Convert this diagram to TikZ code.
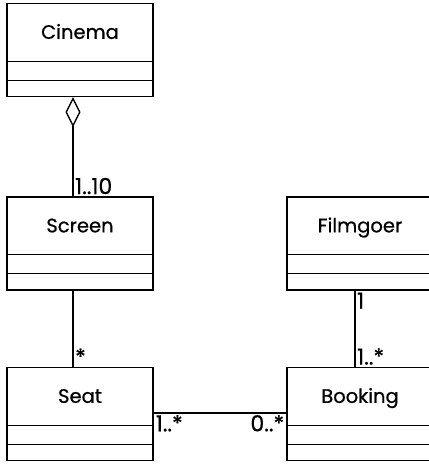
\documentclass[tikz,border=0pt]{standalone}
\usepackage{fontspec}
\newfontfamily\umlfont{Poppins}[FakeBold=0.7]
\usetikzlibrary{arrows.meta}

\tikzset{
    classbox/.style={draw, line width=1.3pt, minimum width=146pt, minimum height=93pt, inner sep=0pt},
    classname/.style={anchor=base, font=\umlfont\fontsize{19.5}{23}\selectfont},
    mult/.style={font=\umlfont\fontsize{22}{26}\selectfont, inner sep=1.5pt},
}

\begin{document}
\begin{tikzpicture}[x=1pt, y=1pt, line width=1.3pt, line join=miter]

    \useasboundingbox (0,0) rectangle (429,-464);

    % ------------------------------------------------------------------
    % 1. Classes (name compartment, then two empty compartments)
    % ------------------------------------------------------------------
    \foreach \id/\txt/\x/\y in {cinema/Cinema/80/-50,
                                 screen/Screen/80/-243.5,
                                 seat/Seat/80/-414,
                                 filmgoer/Filmgoer/360/-243.5,
                                 booking/Booking/360/-414}{
        \node[classbox] (\id) at (\x,\y) {};
        \node[classname] (\id-name) at ([yshift=-36]\id.north) {\txt};
        \draw ([yshift=36]\id.south west) -- ([yshift=36]\id.south east);
        \draw ([yshift=17]\id.south west) -- ([yshift=17]\id.south east);
    }

    % ------------------------------------------------------------------
    % 2. Aggregation Cinema -- Screen
    % ------------------------------------------------------------------
    \draw[{Diamond[open, length=30pt, width=15pt, line width=1.3pt]}-]
        ([xshift=-7]cinema.south) -- ([xshift=-7]screen.north)
        node[mult, pos=1, anchor=south west] {1..10};

    % ------------------------------------------------------------------
    % 3. Associations
    % ------------------------------------------------------------------
    \draw ([xshift=-7]screen.south) -- ([xshift=-7]seat.north)
        node[mult, pos=1, anchor=south west] {*};

    \draw ([xshift=-5]filmgoer.south) -- ([xshift=-5]booking.north)
        node[mult, pos=0, anchor=north west] {1}
        node[mult, pos=1, anchor=south west] {1..*};

    \draw ([yshift=1]seat.east) -- ([yshift=1]booking.west)
        node[mult, pos=0, anchor=north west] {1..*}
        node[mult, pos=1, anchor=north east] {0..*};

\end{tikzpicture}
\end{document}
